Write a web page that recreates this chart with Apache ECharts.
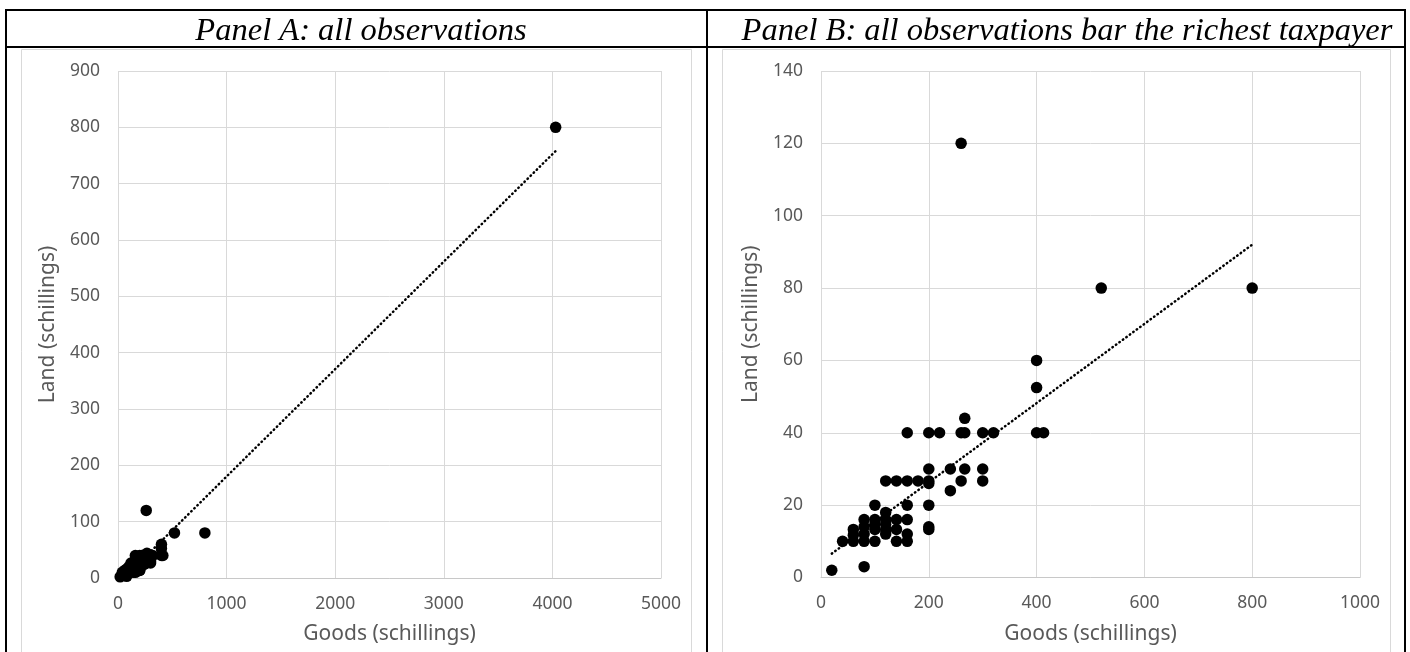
<!DOCTYPE html>
<html>
<head>
<meta charset="utf-8">
<script src="https://cdn.jsdelivr.net/npm/echarts@6/dist/echarts.min.js"></script>
<style>
html,body{margin:0;padding:0;background:#fff;}
#chart{width:1410px;height:652px;}
</style>
</head>
<body>
<div id="chart"></div>
<script>
// ---- Data ----
var titleA = 'Panel A: all observations';
var titleB = 'Panel B: all observations bar the richest taxpayer';
var xName = 'Goods (schillings)';
var yName = 'Land (schillings)';

// Panel B observations: [goods, land]
var obsB = [
  [20,2],[80,3],[40,10],
  [60,10],[60,11.7],[60,13.3],
  [80,10],[80,12],[80,14],[80,16],
  [100,10],[100,13.3],[100,14.7],[100,16],[100,20],
  [120,12],[120,13.3],[120,14.7],[120,16],[120,18],[120,26.7],
  [140,10],[140,13.3],[140,16],[140,26.7],
  [160,10],[160,12],[160,16],[160,20],[160,26.7],[160,40],
  [180,26.7],
  [200,13.3],[200,14],[200,20],[200,26],[200,26.7],[200,30],[200,40],
  [220,40],
  [240,24],[240,30],
  [260,26.7],[260,40],[260,120],
  [266.7,30],[266.7,40],[266.7,44],
  [300,26.7],[300,30],[300,40],
  [320,40],
  [400,40],[400,52.5],[400,60],
  [413,40],
  [520,80],[800,80]
];
// Richest taxpayer (only in Panel A)
var richest = [[4030,800]];
var obsA = obsB.concat(richest);

// Linear trend lines (endpoints)
var trendA = [[55,0],[4030,758]];
var trendB = [[20,6.6],[800,92]];

// Axis ranges / ticks
var xAxisA = {min:0, max:5000, interval:1000};
var yAxisA = {min:0, max:900, interval:100};
var xAxisB = {min:0, max:1000, interval:200};
var yAxisB = {min:0, max:140, interval:20};

// ---- Styles ----
var tickColor = '#595959';
var gridColor = '#d9d9d9';
var fontSans = '"Noto Sans", "Open Sans", sans-serif';
var plain = function(v){ return String(v); };

function xAx(idx, r){
  return {
    gridIndex: idx, type:'value', min:r.min, max:r.max, interval:r.interval,
    name: xName, nameLocation:'middle', nameGap:46,
    nameTextStyle:{color:tickColor, fontSize:21, fontFamily:fontSans},
    axisLine:{show:true, lineStyle:{color:'#c8c8c8', width:1}},
    axisTick:{show:false},
    axisLabel:{color:tickColor, fontSize:17.5, fontFamily:fontSans, margin:17, formatter:plain},
    splitLine:{show:true, lineStyle:{color:gridColor, width:1}}
  };
}
function yAx(idx, r){
  return {
    gridIndex: idx, type:'value', min:r.min, max:r.max, interval:r.interval,
    name: yName, nameLocation:'middle', nameGap:59,
    nameTextStyle:{color:tickColor, fontSize:21, fontFamily:fontSans},
    axisLine:{show:false}, axisTick:{show:false},
    axisLabel:{color:tickColor, fontSize:17.5, fontFamily:fontSans, margin:18, formatter:plain},
    splitLine:{show:true, lineStyle:{color:gridColor, width:1}}
  };
}
function scatter(idx, data){
  return {type:'scatter', xAxisIndex:idx, yAxisIndex:idx, data:data,
    symbol:'circle', symbolSize:11.5, itemStyle:{color:'#000', opacity:1}, z:3};
}
function trend(idx, data){
  return {type:'line', xAxisIndex:idx, yAxisIndex:idx, data:data,
    showSymbol:false, symbol:'none', z:4,
    lineStyle:{color:'#000', width:2.5, type:[0.5,3.8], cap:'round'}};
}

var chart = echarts.init(document.getElementById('chart'), null, {renderer:'canvas'});
var titleStyle = {fontFamily:'"Liberation Serif", "DejaVu Serif", serif', fontStyle:'italic', fontWeight:'normal', fontSize:32.5, color:'#000'};
var option = {
  animation:false,
  backgroundColor:'#fff',
  title:[
    {text:titleA, left:356, top:10, textAlign:'center', textStyle:titleStyle},
    {text:titleB, left:1062, top:10, textAlign:'center', textStyle:titleStyle}
  ],
  grid:[
    {left:118, right:749, top:71, bottom:74},
    {left:821, right:50, top:71, bottom:74.5}
  ],
  xAxis:[xAx(0,xAxisA), xAx(1,xAxisB)],
  yAxis:[yAx(0,yAxisA), yAx(1,yAxisB)],
  series:[
    scatter(0, obsA), trend(0, trendA),
    scatter(1, obsB), trend(1, trendB)
  ],
  graphic:[
    // chart area borders (light grey)
    {type:'rect', shape:{x:21.5, y:49.5, width:670, height:620}, style:{fill:null, stroke:'#d9d9d9', lineWidth:1}, silent:true},
    {type:'rect', shape:{x:722.5, y:49.5, width:668, height:620}, style:{fill:null, stroke:'#d9d9d9', lineWidth:1}, silent:true},
    // table borders (black)
    {type:'line', shape:{x1:5, y1:10, x2:1406, y2:10}, style:{stroke:'#000', lineWidth:2}, silent:true},
    {type:'line', shape:{x1:5, y1:47, x2:1406, y2:47}, style:{stroke:'#000', lineWidth:2}, silent:true},
    {type:'line', shape:{x1:6, y1:9, x2:6, y2:652}, style:{stroke:'#000', lineWidth:2}, silent:true},
    {type:'line', shape:{x1:707, y1:9, x2:707, y2:652}, style:{stroke:'#000', lineWidth:2}, silent:true},
    {type:'line', shape:{x1:1405, y1:9, x2:1405, y2:652}, style:{stroke:'#000', lineWidth:2}, silent:true}
  ]
};
chart.setOption(option);
</script>
</body>
</html>
